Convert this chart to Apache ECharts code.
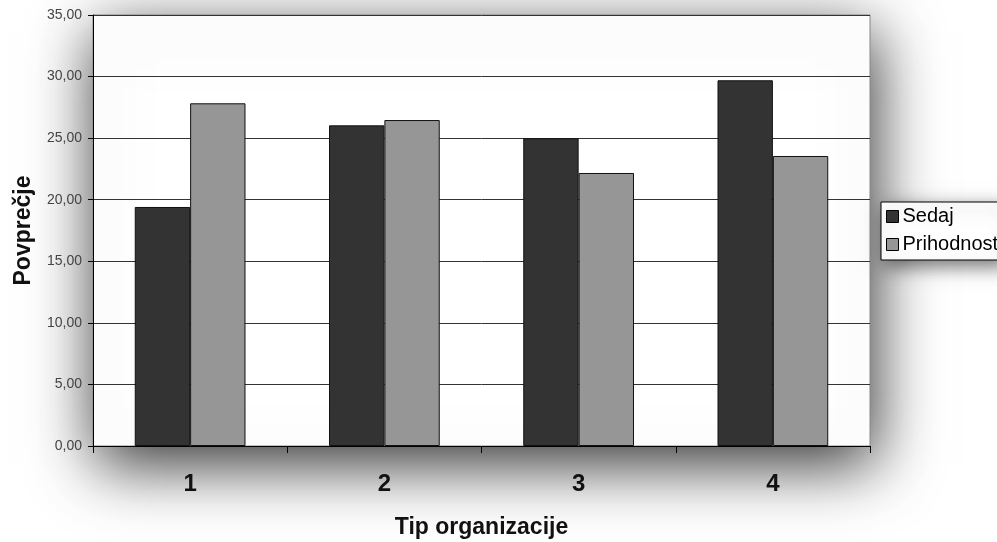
<!DOCTYPE html>
<html>
<head>
<meta charset="utf-8">
<script src="https://cdn.jsdelivr.net/npm/echarts@6/dist/echarts.min.js"></script>
<style>
  html, body { margin: 0; padding: 0; background: #fff; }
  #chart { width: 997px; height: 542px; }
</style>
</head>
<body>
<div id="chart"></div>
<script>
// Average scores per organisation type, now vs. future
const categories = ['1', '2', '3', '4'];
const seriesNames = ['Sedaj', 'Prihodnost'];
const sedaj = [19.41, 26.04, 24.99, 29.70];
const prihodnost = [27.83, 26.47, 22.17, 23.55];
const yTicks = { min: 0, max: 35, interval: 5 };

const font = "'Liberation Sans', Arial, sans-serif";
const fmt = v => v.toFixed(2).replace('.', ',');

const chart = echarts.init(document.getElementById('chart'), null, { renderer: 'canvas' });

const barStyle = color => ({ color: color, borderColor: '#111', borderWidth: 1 });

chart.setOption({
  animation: false,
  backgroundColor: '#fff',
  grid: {
    left: 93, right: 127, top: 15, bottom: 96,
    containLabel: false,
    outerBoundsMode: 'none',
    show: true,
    backgroundColor: '#fff',
    borderColor: '#888',
    borderWidth: 1,
    shadowBlur: 60,
    shadowColor: 'rgba(0,0,0,0.8)',
    shadowOffsetX: 4,
    shadowOffsetY: 18
  },
  legend: {
    orient: 'vertical',
    left: 881, top: 202,
    data: seriesNames,
    icon: 'rect',
    itemWidth: 12, itemHeight: 12,
    itemGap: 5,
    padding: [3, 6, 4, 5],
    backgroundColor: '#fff',
    borderColor: '#000',
    borderWidth: 1,
    shadowBlur: 18,
    shadowColor: 'rgba(0,0,0,0.55)',
    shadowOffsetX: 4,
    shadowOffsetY: 6,
    itemStyle: { borderColor: '#000', borderWidth: 1 },
    textStyle: { fontFamily: font, fontSize: 20, color: '#000', padding: [0, 0, 0, -1], lineHeight: 23 }
  },
  xAxis: {
    type: 'category',
    data: categories,
    name: 'Tip organizacije',
    nameLocation: 'middle',
    nameGap: 70,
    nameTextStyle: { fontFamily: font, fontSize: 23, fontWeight: 'bold', color: '#111' },
    axisLine: { lineStyle: { color: '#000', width: 1 } },
    axisTick: { show: true, length: 7, lineStyle: { color: '#000' } },
    axisLabel: { margin: 26, fontFamily: font, fontSize: 24, fontWeight: 'bold', color: '#111' },
    splitLine: { show: false }
  },
  yAxis: {
    type: 'value',
    min: yTicks.min, max: yTicks.max, interval: yTicks.interval,
    name: 'Povprečje',
    nameLocation: 'middle',
    nameGap: 58,
    nameRotate: 90,
    nameTextStyle: { fontFamily: font, fontSize: 23, fontWeight: 'bold', color: '#111' },
    axisLine: { show: true, lineStyle: { color: '#000', width: 1 } },
    axisTick: { show: true, length: 5, lineStyle: { color: '#000' } },
    axisLabel: { margin: 11, fontFamily: font, fontSize: 14, color: '#444', formatter: fmt },
    splitLine: { show: true, lineStyle: { color: '#333', width: 1 } }
  },
  series: [
    {
      name: seriesNames[0], type: 'bar', data: sedaj,
      barGap: '0%', barCategoryGap: '43%',
      itemStyle: barStyle('#333333')
    },
    {
      name: seriesNames[1], type: 'bar', data: prihodnost,
      barGap: '0%', barCategoryGap: '43%',
      itemStyle: barStyle('#969696')
    }
  ]
});
</script>
</body>
</html>
